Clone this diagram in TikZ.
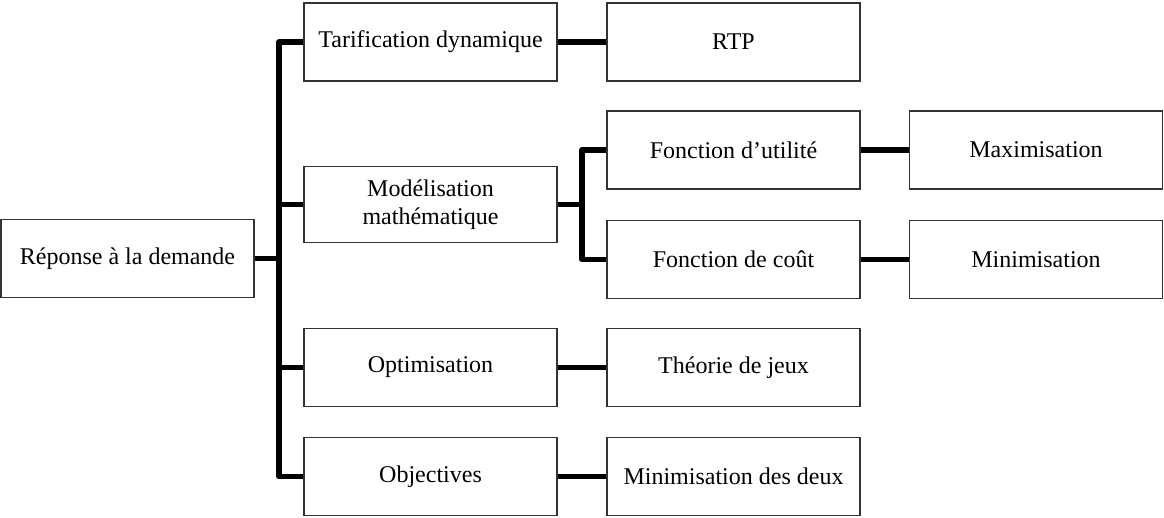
\documentclass[tikz,border=0pt]{standalone}
\usepackage{fontspec}
\setmainfont{Liberation Serif}
\begin{document}
\begin{tikzpicture}[x=1pt,y=-1pt,
  box/.style={draw=black!80,line width=1.3pt,fill=white,minimum width=253pt,minimum height=78pt,inner sep=0pt,align=center,font=\fontsize{24}{27.5}\selectfont},
  conn/.style={line width=5.5pt,line join=round,line cap=butt}]
\useasboundingbox (0,0) rectangle (1164,517);
\coordinate (tk) at (279,0);
\coordinate (sk) at (582,0);
\node[box] (root) at (127.5,258.5) {Réponse à la demande};
\node[box] (tarif) at (430.5,42) {Tarification dynamique};
\node[box] (rtp) at (733.5,42) {RTP};
\node[box,minimum height=76pt] (model) at (430.5,204.5) {Modélisation\\mathématique};
\node[box] (fu) at (733.5,150) {Fonction d’utilité};
\node[box] (max) at (1036,150) {Maximisation};
\node[box] (fc) at (733.5,259.5) {Fonction de coût};
\node[box] (min) at (1036,259.5) {Minimisation};
\node[box] (opt) at (430.5,367.5) {Optimisation};
\node[box] (theo) at (733.5,367.5) {Théorie de jeux};
\node[box] (obj) at (430.5,476.5) {Objectives};
\node[box] (mdd) at (733.5,476.5) {Minimisation des deux};
\draw[conn] (tarif.west) -- (tarif.west -| tk) -- (obj.west -| tk) -- (obj.west);
\draw[conn] (model.west) -- (model.west -| tk);
\draw[conn] (opt.west) -- (opt.west -| tk);
\draw[conn] (root.east) -- (root.east -| tk);
\draw[conn] (fu.west) -- (fu.west -| sk) -- (fc.west -| sk) -- (fc.west);
\draw[conn] (model.east) -- (model.east -| sk);
\draw[conn] (tarif.east) -- (rtp.west);
\draw[conn] (fu.east) -- (max.west);
\draw[conn] (fc.east) -- (min.west);
\draw[conn] (opt.east) -- (theo.west);
\draw[conn] (obj.east) -- (mdd.west);
\end{tikzpicture}
\end{document}
